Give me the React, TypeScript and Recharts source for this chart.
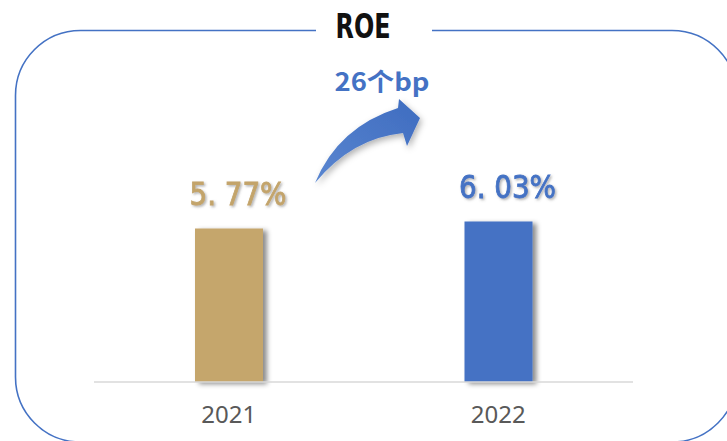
import React from 'react';
import { BarChart, Bar, XAxis, YAxis, Cell, LabelList } from 'recharts';

const categories = ['2021', '2022'];
const roeValues = [5.77, 6.03];
const valueLabels = ['5. 77%', '6. 03%'];
const barColors = ['#C5A66C', '#4472C4'];
const labelColors = ['#C3A46B', '#4472C4'];
const chartTitle = 'ROE';
const changeLabel = '26个bp';

const data = categories.map((c, i) => ({ year: c, roe: roeValues[i], label: valueLabels[i] }));

const W = 727;
const H = 441;

const ValueLabel = (props: any) => {
  const { x, y, width, index } = props;
  const cx = Number(x) + Number(width) / 2 + 9;
  return (
    <text
      x={cx}
      y={Number(y) - 24}
      textAnchor="middle"
      fontFamily="DejaVu Sans Condensed, DejaVu Sans, sans-serif"
      fontSize={32}
      fill={labelColors[index]}
      stroke={labelColors[index]}
      strokeWidth={0.8}
      filter="url(#txtShadow)"
      textLength={97}
      lengthAdjust="spacingAndGlyphs"
    >
      {valueLabels[index]}
    </text>
  );
};

const YearTick = (props: any) => {
  const { x, y, payload } = props;
  return (
    <text
      x={x}
      y={Number(y) + 41}
      textAnchor="middle"
      fontFamily="Noto Sans, sans-serif"
      fontSize={24}
      fill="#595959"
    >
      {payload.value}
    </text>
  );
};

export default function App() {
  return (
    <div style={{ position: 'absolute', left: 0, top: 0, width: W, height: H, background: '#fff', overflow: 'hidden' }}>
      <svg width={0} height={0} style={{ position: 'absolute' }}>
        <defs>
          <filter id="barShadow" x="-20%" y="-10%" width="150%" height="120%">
            <feDropShadow dx={4} dy={2} stdDeviation={2.5} floodColor="#000" floodOpacity={0.45} />
          </filter>
          <filter id="txtShadow" x="-10%" y="-20%" width="130%" height="150%">
            <feDropShadow dx={1.5} dy={1.5} stdDeviation={1} floodColor="#666" floodOpacity={0.5} />
          </filter>
          <filter id="arrowShadow" x="-30%" y="-30%" width="160%" height="160%">
            <feDropShadow dx={2} dy={3} stdDeviation={3} floodColor="#000" floodOpacity={0.3} />
          </filter>
          <linearGradient id="arrowGrad" x1="0" y1="1" x2="1" y2="0">
            <stop offset="0%" stopColor="#5A86D0" />
            <stop offset="100%" stopColor="#3E6CC0" />
          </linearGradient>
        </defs>
      </svg>
      <svg width={W} height={H} style={{ position: 'absolute', left: 0, top: 0 }}>
        <rect x={15.5} y={30.5} width={721.5} height={411.5} rx={65} ry={65} fill="none" stroke="#4472C4" strokeWidth={1.6} />
        <rect x={316} y={20} width={116} height={20} fill="#fff" />
        <text
          x={363}
          y={38}
          textAnchor="middle"
          fontFamily="DejaVu Sans Condensed, DejaVu Sans, sans-serif"
          fontWeight="bold"
          fontSize={33}
          fill="#111"
          textLength={55}
          lengthAdjust="spacingAndGlyphs"
        >
          {chartTitle}
        </text>
      </svg>
      <div style={{ position: 'absolute', left: 0, top: 0 }}>
        <BarChart width={W} height={H} data={data} margin={{ top: 116, right: 94, bottom: 19, left: 94 }}>
          <XAxis
            dataKey="year"
            height={40}
            axisLine={{ stroke: '#D9D9D9', strokeWidth: 1.5 }}
            tickLine={false}
            tickSize={0}
            tickMargin={0}
            tick={<YearTick />}
            interval={0}
          />
          <YAxis hide domain={[0, 10]} />
          <Bar dataKey="roe" barSize={68} isAnimationActive={false} filter="url(#barShadow)">
            {data.map((d, i) => (
              <Cell key={d.year} fill={barColors[i]} />
            ))}
            <LabelList dataKey="label" content={<ValueLabel />} />
          </Bar>
        </BarChart>
      </div>
      <svg width={W} height={H} style={{ position: 'absolute', left: 0, top: 0, pointerEvents: 'none' }}>
        <path
          d="M315,183 Q338,127 398,108 L399,99 L420,118 L407,146 L403,133 Q352,138 315,183 Z"
          fill="url(#arrowGrad)"
          filter="url(#arrowShadow)"
        />
        <text
          x={382}
          y={91}
          textAnchor="middle"
          fontFamily="Noto Sans CJK SC, Noto Sans, sans-serif"
          fontWeight="bold"
          fontSize={25}
          fill="#4472C4"
          textLength={95}
          lengthAdjust="spacingAndGlyphs"
        >
          {changeLabel}
        </text>
      </svg>
    </div>
  );
}
